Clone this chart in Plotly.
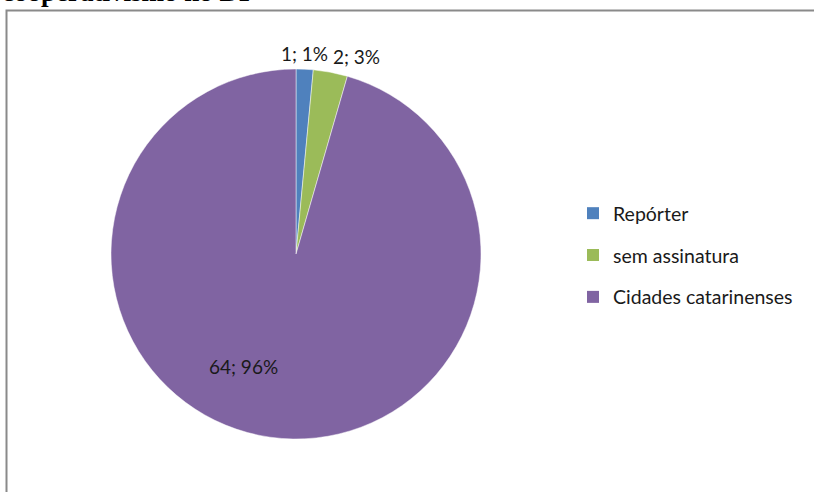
import math
import plotly.graph_objects as go

# Authorship of the DF cooperativism articles
categories = ["Repórter", "sem assinatura", "Cidades catarinenses"]
counts = [1, 2, 64]
colors = ["#4F81BD", "#9BBB59", "#8064A2"]
label_inside = [False, False, True]
title_text = "cooperativismo no DF"

W, H = 814, 492
CX, CY, R = 296, 254, 185  # pie centre and radius in pixels

fig = go.Figure()

fig.add_trace(go.Pie(
    labels=categories,
    values=counts,
    sort=False,
    direction="clockwise",
    rotation=0,
    marker=dict(colors=colors, line=dict(color="rgba(255,255,255,0.6)", width=0.8)),
    textinfo="none",
    showlegend=False,
    domain=dict(x=[(CX - R) / W, (CX + R) / W], y=[(H - CY - R) / H, (H - CY + R) / H]),
    hoverinfo="label+value+percent",
))

# Legend entries, one group per category so the rows can be spaced apart
for name, col in zip(categories, colors):
    fig.add_trace(go.Scatter(
        x=[None], y=[None], mode="markers", name=name,
        legendgroup=name,
        marker=dict(symbol="square", size=12, color=col),
        hoverinfo="skip",
    ))

# "value; percent" labels placed along each slice's mid-angle
total = sum(counts)
annotations = []
cum = 0
for val, inside in zip(counts, label_inside):
    mid = (cum + val / 2) / total * 2 * math.pi
    cum += val
    s, c = math.sin(mid), math.cos(mid)
    d = R * (0.615 if inside else 1.01)
    px, py = CX + d * s, CY - d * c
    if abs(s) < 0.1:
        xa = "center"
    else:
        xa = "left" if s > 0 else "right"
    ya = "middle" if inside else ("bottom" if c > 0 else "top")
    annotations.append(dict(
        text=f"{val}; {round(100 * val / total)}%",
        xref="paper", yref="paper", x=px / W, y=1 - py / H,
        xanchor=xa, yanchor=ya, showarrow=False,
        font=dict(family="Lato", size=19, color="#1a1a1a"),
    ))

annotations.append(dict(
    text="<b>" + title_text + "</b>", xref="paper", yref="paper",
    x=0, y=1 - 9 / H, xanchor="left", yanchor="bottom", showarrow=False,
    font=dict(family="Liberation Serif", size=27, color="black"),
))

fig.update_layout(
    width=W, height=H,
    margin=dict(l=0, r=0, t=0, b=0),
    paper_bgcolor="white", plot_bgcolor="white",
    xaxis=dict(visible=False), yaxis=dict(visible=False),
    legend=dict(
        x=573 / W, y=1 - 194 / H, xanchor="left", yanchor="top",
        font=dict(family="Lato", size=19.5, color="#1a1a1a"),
        tracegroupgap=13.5, itemwidth=30,
        bgcolor="rgba(0,0,0,0)",
    ),
    shapes=[dict(
        type="rect", xref="paper", yref="paper",
        x0=6.5 / W, x1=1.05, y0=-0.05, y1=1 - 10.5 / H,
        line=dict(color="#8a8a8a", width=2), fillcolor="rgba(0,0,0,0)",
        layer="below",
    )],
    annotations=annotations,
)

fig.write_html("out.html")
